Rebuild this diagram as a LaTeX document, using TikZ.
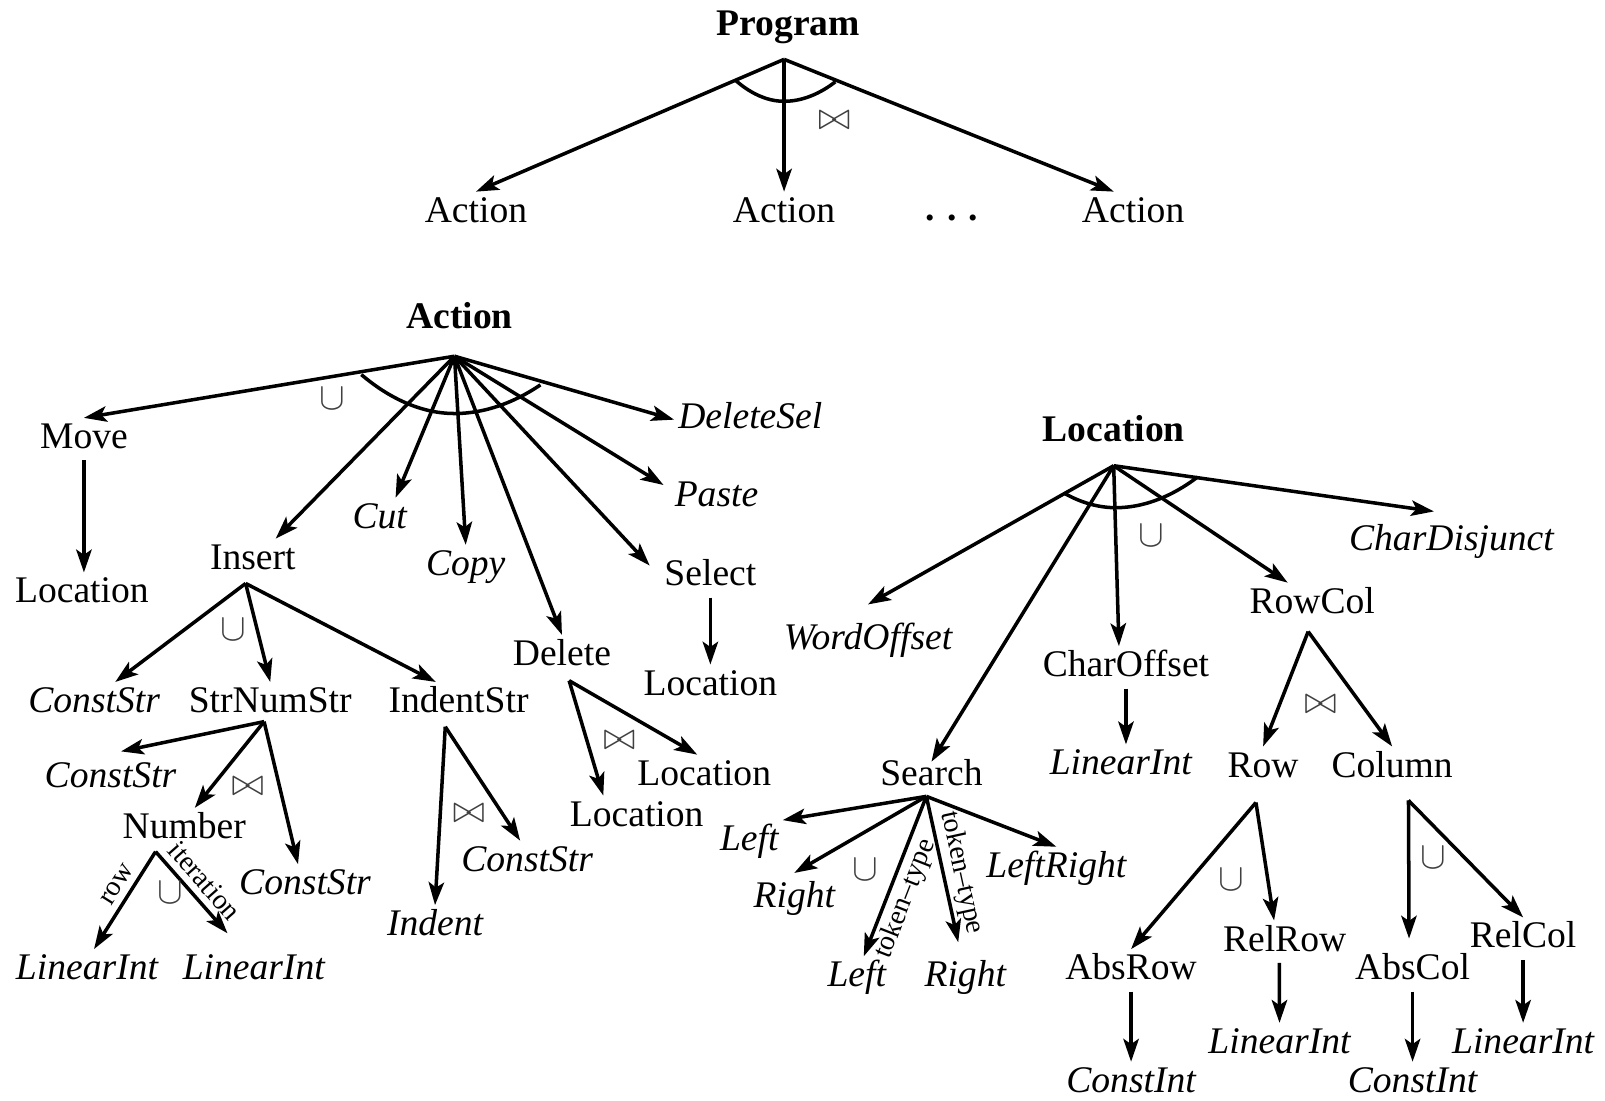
\documentclass[tikz,border=0pt]{standalone}
\usepackage{fontspec}
\setmainfont{Liberation Serif}
\usetikzlibrary{arrows.meta}
\newcommand\nodesize{\fontsize{10.7}{12.8}\selectfont}
\tikzset{
  nonterm/.style={font=\nodesize,inner sep=1pt,text height=7.5pt,text depth=2.2pt},
  term/.style={nonterm,font=\nodesize\itshape},
  root/.style={nonterm,font=\nodesize\bfseries},
  arr/.style={-{Stealth[length=6.5pt,width=4.4pt,inset=1.5pt]},line width=1pt},
  arcline/.style={line width=1pt},
  oper/.style={font=\nodesize,inner sep=0pt,text=black!75},
  edgelab/.style={font=\fontsize{8}{9}\selectfont,inner sep=1.8pt,sloped},
}
\begin{document}
\begin{tikzpicture}[x=0.010236cm,y=-0.010236cm]
  \useasboundingbox (0,0) rectangle (1568,1075);

  % Program
  \node [root] (prog) at (770,26) {Program};
  \coordinate (progA) at (766,58);
  \node [nonterm] (act1) at (465,208) {Action};
  \node [nonterm] (act2) at (766,208) {Action};
  \node [nonterm] (act3) at (1107,208) {Action};
  \node [nonterm,font=\nodesize\bfseries] (dots) at (930,206) {.\hspace{3.5pt}.\hspace{3.5pt}.};
  \foreach \c in {act1,act2}
    \draw [arr] (progA) -- (\c.north);
  \draw [arr] (progA) -- ([xshift=-5.5pt]act3.north);
  \draw [arcline] (718,78) parabola bend (766,99) (816,80);
  \node [oper] at (815,118) {$\bowtie$};

  % Action
  \node [root] (act) at (449,312) {Action};
  \coordinate (actA) at (444,348);
  \node [nonterm] (move) at (82,429) {Move};
  \node [nonterm] (insert) at (247,547) {Insert};
  \node [term] (cut) at (371,507) {Cut};
  \node [term] (copy) at (455,553) {Copy};
  \node [nonterm] (delete) at (549,641) {Delete};
  \node [nonterm] (select) at (694,563) {Select};
  \node [term] (paste) at (700,486) {Paste};
  \node [term] (delsel) at (733,410) {DeleteSel};
  \foreach \c in {move,copy,delete}
    \draw [arr] (actA) -- (\c.north);
  \draw [arr] (actA) -- ([xshift=6.5pt]insert.north);
  \draw [arr] (actA) -- ([xshift=4.5pt]cut.north);
  \draw [arr] (actA) -- ([shift={(-3pt,-3pt)}]select.north west);
  \draw [arr] (actA) -- ([shift={(-2pt,-2.5pt)}]paste.north west);
  \draw [arr] (actA) -- (delsel.west);
  \draw [arcline] (353,366) parabola bend (444,404) (528,376);
  \node [oper] at (325,390) {$\cup$};

  \node [nonterm] (mloc) at (80,580) {Location};
  \draw [arr] (move.south) -- (move.south |- mloc.north);

  % Insert
  \coordinate (insA) at (240,570);
  \node [term] (cs1) at (92,687) {ConstStr};
  \node [nonterm] (sns) at (264,687) {StrNumStr};
  \node [nonterm] (ids) at (448,687) {IndentStr};
  \draw [arr] (insA) -- ([xshift=6pt]cs1.north);
  \draw [arr] (insA) -- (sns.north);
  \draw [arr] (insA) -- ([xshift=-6.5pt]ids.north);
  \node [oper] at (228,615) {$\cup$};

  % StrNumStr
  \coordinate (snsA) at (258,705);
  \node [term] (cs2) at (108,760) {ConstStr};
  \node [nonterm] (num) at (180,810) {Number};
  \node [term] (cs3) at (298,865) {ConstStr};
  \draw [arr] (snsA) -- ([shift={(3pt,1.5pt)}]cs2.north);
  \draw [arr] (snsA) -- ([xshift=3pt]num.north);
  \draw [arr] (snsA) -- ([xshift=-2pt]cs3.north);
  \node [oper] at (242,768) {$\bowtie$};

  % Number
  \coordinate (numA) at (152,832);
  \node [term] (li1) at (85,948) {LinearInt};
  \node [term] (li2) at (248,948) {LinearInt};
  \draw [arr] (numA) -- ([xshift=2pt]li1.north) node [edgelab,pos=0.42,above] {row};
  \draw [arr] (numA) -- ([shift={(-7.5pt,4.5pt)}]li2.north) node [edgelab,pos=0.5,above] {iteration};
  \node [oper] at (166,872) {$\cup$};

  % IndentStr
  \coordinate (idsA) at (435,710);
  \node [term] (indent) at (425,905) {Indent};
  \node [term] (cs4) at (515,842) {ConstStr};
  \draw [arr] (idsA) -- (indent.north);
  \draw [arr] (idsA) -- ([xshift=-2pt]cs4.north);
  \node [oper] at (458,795) {$\bowtie$};

  % Delete
  \coordinate (delA) at (556,665);
  \node [nonterm] (dloc1) at (622,798) {Location};
  \node [nonterm] (dloc2) at (688,758) {Location};
  \draw [arr] (delA) -- ([xshift=-9.5pt]dloc1.north);
  \draw [arr] (delA) -- ([xshift=-2pt]dloc2.north);
  \node [oper] at (605,723) {$\bowtie$};

  % Select
  \node [nonterm] (sloc) at (694,670) {Location};
  \draw [arr] (select.south) -- (sloc.north);

  % Location
  \node [root] (loc) at (1088,422) {Location};
  \coordinate (locA) at (1088,455);
  \node [term] (wo) at (848,625) {WordOffset};
  \node [nonterm] (search) at (910,758) {Search};
  \node [nonterm] (co) at (1100,652) {CharOffset};
  \node [nonterm] (rc) at (1282,590) {RowCol};
  \node [term] (cd) at (1418,529) {CharDisjunct};
  \draw [arr] (locA) -- ([yshift=4pt]wo.north);
  \draw [arr] (locA) -- ([yshift=-2pt]search.north);
  \draw [arr] (locA) -- ([xshift=-2pt]co.north);
  \draw [arr] (locA) -- ([xshift=-7pt]rc.north);
  \draw [arr] (locA) -- ([shift={(-5pt,2.5pt)}]cd.north);
  \draw [arcline] (1040,482) parabola bend (1090,496) (1170,466);
  \node [oper] at (1125,523) {$\cup$};

  \node [term] (li3) at (1095,748) {LinearInt};
  \draw [arr] (co.south) -- (co.south |- li3.north);

  % Search
  \coordinate (srA) at (905,778);
  \node [term] (lf1) at (732,822) {Left};
  \node [term] (rt1) at (776,877) {Right};
  \node [term] (lf2) at (837,955) {Left};
  \node [term] (rt2) at (943,955) {Right};
  \node [term] (lr) at (1032,848) {LeftRight};
  \draw [arr] (srA) -- (lf1.north east);
  \draw [arr] (srA) -- ([yshift=1pt]rt1.north);
  \draw [arr] (srA) -- ([xshift=2pt]lf2.north) node [edgelab,pos=0.6,below,inner sep=1pt] {token--type};
  \draw [arr] (srA) -- ([shift={(-2pt,4pt)}]rt2.north) node [edgelab,pos=0.55,above,inner sep=1pt] {token--type};
  \draw [arr] (srA) -- (lr.north);
  \node [oper] at (845,850) {$\cup$};

  % RowCol
  \coordinate (rcA) at (1278,617);
  \node [nonterm] (row) at (1234,750) {Row};
  \node [nonterm] (col) at (1360,750) {Column};
  \draw [arr] (rcA) -- (row.north);
  \draw [arr] (rcA) -- (col.north);
  \node [oper] at (1290,688) {$\bowtie$};

  % Row
  \coordinate (rowA) at (1227,784);
  \node [nonterm] (absr) at (1105,948) {AbsRow};
  \node [nonterm] (relr) at (1255,920) {RelRow};
  \draw [arr] (rowA) -- (absr.north);
  \draw [arr] (rowA) -- ([xshift=-3pt]relr.north);
  \node [oper] at (1203,860) {$\cup$};
  \node [term] (ci1) at (1105,1058) {ConstInt};
  \node [term] (li4) at (1250,1020) {LinearInt};
  \draw [arr] (absr.south) -- (ci1.north);
  \draw [arr] ([xshift=-1.5pt]relr.south) -- (li4.north);

  % Column
  \coordinate (colA) at (1376,782);
  \node [nonterm] (absc) at (1380,948) {AbsCol};
  \node [nonterm] (relc) at (1488,917) {RelCol};
  \draw [arr] (colA) -- ([shift={(-1pt,3pt)}]absc.north);
  \draw [arr] (colA) -- (relc.north);
  \node [oper] at (1400,838) {$\cup$};
  \node [term] (ci2) at (1380,1058) {ConstInt};
  \node [term] (li5) at (1488,1020) {LinearInt};
  \draw [arr] (absc.south) -- (ci2.north);
  \draw [arr] (relc.south) -- (li5.north);
\end{tikzpicture}
\end{document}
